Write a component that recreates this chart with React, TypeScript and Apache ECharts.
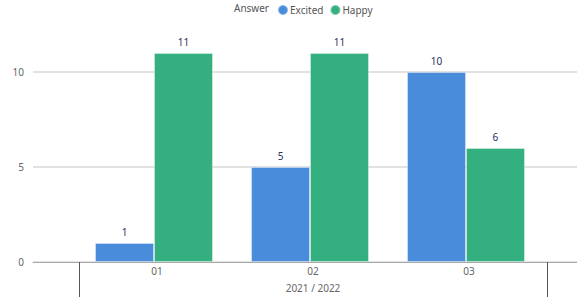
import React, { useEffect, useRef } from "react";
import * as echarts from "echarts";

const categories = ["01", "02", "03"];
const groupLabel = ["2021 / 2022"];
const excited = [1, 5, 10];
const happy = [11, 11, 6];
const seriesNames = ["Excited", "Happy"];
const legendTitle = "Answer";

const FONT = "Noto Sans";

export default function App() {
  const ref = useRef<HTMLDivElement>(null);
  useEffect(() => {
    if (!ref.current) return;
    const chart = echarts.init(ref.current, undefined, { renderer: "svg" });
    const labelStyle = {
      show: true,
      position: "top" as const,
      distance: 6,
      color: "#2b2f5c",
      fontSize: 10,
      fontFamily: FONT,
    };
    chart.setOption({
      animation: false,
      textStyle: { fontFamily: FONT },
      title: {
        text: legendTitle,
        left: 234,
        top: 3,
        padding: 0,
        textStyle: { fontSize: 10, fontWeight: "normal", color: "#555", fontFamily: FONT },
      },
      legend: {
        data: seriesNames,
        left: 277,
        top: 4,
        padding: 0,
        icon: "circle",
        itemWidth: 10,
        itemHeight: 10,
        itemGap: 6,
        textStyle: { fontSize: 10, color: "#555", fontFamily: FONT, padding: [0, 0, 0, -3] },
      },
      grid: [
        { left: 33, right: 0, top: 34, bottom: 37 },
        { left: 79, right: 30, top: 34, bottom: 37 },
        { left: 76, right: 33, top: 34, bottom: 37 },
      ],
      xAxis: [
        {
          type: "category",
          gridIndex: 0,
          data: [""],
          axisLine: { show: true, lineStyle: { color: "#aaa", width: 1 } },
          axisTick: { show: false },
          axisLabel: { show: false },
        },
        {
          type: "category",
          gridIndex: 1,
          position: "bottom",
          data: categories,
          axisLine: { show: false },
          axisTick: { show: false },
          axisLabel: { color: "#666", fontSize: 10, margin: 4, fontFamily: FONT },
        },
        {
          type: "category",
          gridIndex: 1,
          position: "bottom",
          offset: 0,
          data: groupLabel,
          axisLine: { show: false },
          axisTick: { show: true, length: 35, lineStyle: { color: "#555", width: 1 } },
          axisLabel: { color: "#666", fontSize: 10, margin: 21, fontFamily: FONT },
        },
        {
          type: "category",
          gridIndex: 2,
          data: categories,
          show: false,
        },
      ],
      yAxis: [
        {
          type: "value",
          gridIndex: 0,
          min: 0,
          max: 12,
          interval: 5,
          axisLine: { show: false },
          axisTick: { show: false },
          axisLabel: { color: "#666", fontSize: 10, margin: 9, showMaxLabel: false, fontFamily: FONT },
          splitLine: { show: true, showMaxLine: false, lineStyle: { color: "#d9d9d9", width: 1.5 } },
        },
        {
          type: "value",
          gridIndex: 1,
          min: 0,
          max: 12,
          interval: 5,
          show: false,
          splitLine: { show: false },
        },
        {
          type: "value",
          gridIndex: 2,
          min: 0,
          max: 12,
          interval: 5,
          show: false,
          splitLine: { show: false },
        },
      ],
      series: [
        {
          name: seriesNames[0],
          type: "bar",
          xAxisIndex: 3,
          yAxisIndex: 2,
          data: excited,
          barGap: "0%",
          barCategoryGap: "24.4%",
          itemStyle: { color: "#4a8cdc", borderColor: "rgba(255,255,255,0.35)", borderWidth: 1 },
          label: labelStyle,
        },
        {
          name: seriesNames[1],
          type: "bar",
          xAxisIndex: 3,
          yAxisIndex: 2,
          data: happy,
          barGap: "0%",
          barCategoryGap: "24.4%",
          itemStyle: { color: "#34af7f", borderColor: "rgba(255,255,255,0.35)", borderWidth: 1 },
          label: labelStyle,
        },
      ],
    });
    return () => chart.dispose();
  }, []);
  return <div ref={ref} style={{ width: 577, height: 299, position: "absolute", left: 0, top: 0 }} />;
}
